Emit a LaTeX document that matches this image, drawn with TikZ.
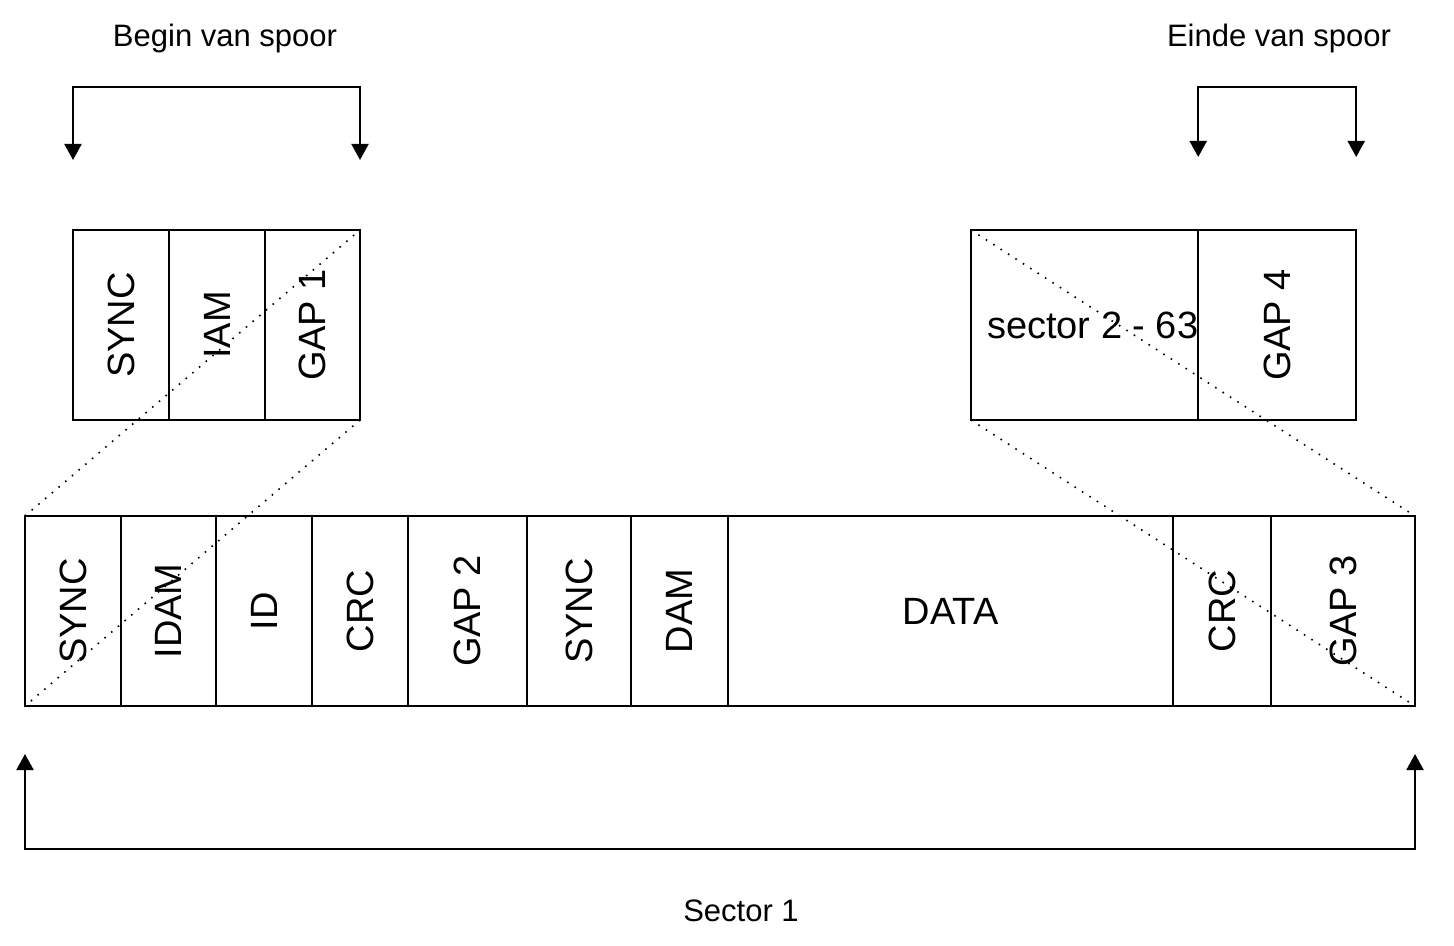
\documentclass[tikz,border=0pt]{standalone}
\usepackage{fontspec}
\setmainfont{Liberation Sans}
\usepackage{graphicx}
\usepackage{tikz}
\usetikzlibrary{positioning, arrows.meta}

\newcommand{\vtext}[1]{\rotatebox{90}{#1}}

\begin{document}
\begin{tikzpicture}[x=0.5pt, y=-0.5pt, node distance=0pt, line width=1pt]
    \tikzset{
        field/.style={draw, minimum height=95pt, inner sep=0pt, outer sep=0pt, font=\fontsize{19}{21}\selectfont},
        caption/.style={font=\fontsize{15.5}{18}\selectfont, anchor=base},
        pointer/.style={{Triangle[length=8pt, width=8.5pt]}-{Triangle[length=8pt, width=8.5pt]}},
        projection/.style={line width=0.8pt, dash pattern=on 0.8pt off 3.6pt}
    }
    \useasboundingbox (0,0) rectangle (1454,946);

    % BEGIN VAN SPOOR
    \node[field, minimum width=48pt, anchor=north west] (t1) at (73,230) {\vtext{SYNC}};
    \node[field, minimum width=48pt] (t2) [right=of t1] {\vtext{IAM}};
    \node[field, minimum width=47.5pt] (t3) [right=of t2] {\vtext{GAP 1}};

    % EINDE VAN SPOOR
    \node[field, minimum width=113pt, anchor=north west] (r1) at (971,230) {\hspace*{8pt}sector 2 - 63};
    \node[field, minimum width=79pt] (r2) [right=of r1] {\vtext{GAP 4}};

    % SECTOR 1
    \node[field, minimum width=48pt, anchor=north west] (s1) at (25,516) {\vtext{SYNC}};
    \node[field, minimum width=47.5pt] (s2) [right=of s1] {\vtext{IDAM}};
    \node[field, minimum width=48pt] (s3) [right=of s2] {\vtext{ID}};
    \node[field, minimum width=48pt] (s4) [right=of s3] {\vtext{CRC}};
    \node[field, minimum width=59.5pt] (s5) [right=of s4] {\vtext{GAP 2}};
    \node[field, minimum width=52pt] (s6) [right=of s5] {\vtext{SYNC}};
    \node[field, minimum width=48.5pt] (s7) [right=of s6] {\vtext{DAM}};
    \node[field, minimum width=222.5pt] (s8) [right=of s7] {DATA};
    \node[field, minimum width=49pt] (s9) [right=of s8] {\vtext{CRC}};
    \node[field, minimum width=72pt] (s10) [right=of s9] {\vtext{GAP 3}};

    % PROJECTION LINES
    \draw[projection] (s1.north west) -- (t3.north east);
    \draw[projection] (t3.south east) -- (s1.south west);
    \draw[projection] (r1.north west) -- (s10.north east);
    \draw[projection] (r1.south west) -- (s10.south east);

    % BRACKETS
    \coordinate (bl) at ([yshift=35pt]t1.north west);
    \coordinate (br) at ([yshift=35pt]t3.north east);
    \coordinate (el) at ([yshift=36.5pt]r2.north west);
    \coordinate (er) at ([yshift=36.5pt]r2.north east);
    \coordinate (sl) at ([yshift=-24pt]s1.south west);
    \coordinate (sr) at ([yshift=-24pt]s10.south east);
    \draw[pointer] (bl) -- ++(0,-73) -| (br);
    \draw[pointer] (el) -- ++(0,-70) -| (er);
    \draw[pointer] (sl) -- ++(0,95) -| (sr);

    % CAPTIONS
    \node[caption] (begin) at (225,47) {Begin van spoor};
    \node[caption] (einde) at (1279,47) {Einde van spoor};
    \node[caption] (sector) at (741,921) {Sector 1};

\end{tikzpicture}
\end{document}
